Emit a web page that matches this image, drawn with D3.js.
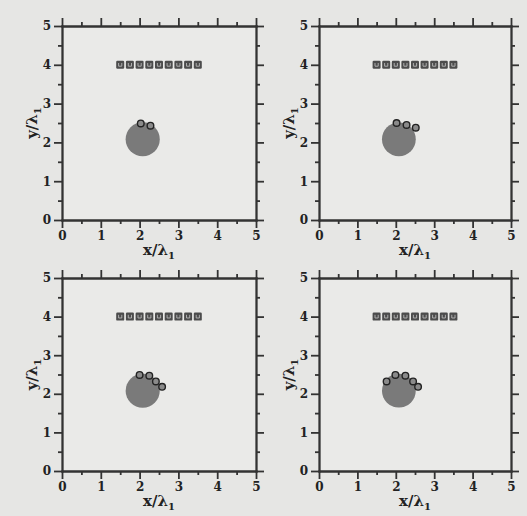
<!DOCTYPE html>
<html>
<head>
<meta charset="utf-8">
<script src="https://d3js.org/d3.v7.min.js"></script>
<style>
  body { margin: 0; background: #e6e6e4; }
  .axis path, .axis line { stroke: #333; stroke-width: 1.8; }
  .axis text { font-family: "DejaVu Serif", serif; font-weight: bold; font-size: 12px; fill: #222; }
  .lab { font-family: "DejaVu Serif", serif; font-weight: bold; font-size: 15px; fill: #222; }
</style>
</head>
<body>
<div id="chart"></div>
<script>
// major / minor ticks (same on both axes)
var majorTicks = [0, 1, 2, 3, 4, 5];
var minorTicks = [0.5, 1.5, 2.5, 3.5, 4.5];

// row of square markers at y = 4
var squareX = [1.5, 1.75, 2.0, 2.25, 2.5, 2.75, 3.0, 3.25, 3.5];
var squareY = [4, 4, 4, 4, 4, 4, 4, 4, 4];

// big grey disc
var discX = 2.08;
var discY = 2.08;
var discR = 0.44;

// small circles on top of the disc, one list per panel
var bubbleX = [
  [2.03, 2.28],
  [2.02, 2.28, 2.52],
  [2.00, 2.25, 2.42, 2.58],
  [1.76, 1.99, 2.25, 2.45, 2.58]
];
var bubbleY = [
  [2.49, 2.43],
  [2.50, 2.45, 2.38],
  [2.49, 2.47, 2.32, 2.18],
  [2.32, 2.49, 2.47, 2.32, 2.18]
];

var svgWidth = 527;
var svgHeight = 516;

// plot boxes of the four panels
var boxes = [
  {x0: 62, x1: 256, y0: 26, y1: 220},
  {x0: 319, x1: 511, y0: 26, y1: 220},
  {x0: 62, x1: 256, y0: 278, y1: 471},
  {x0: 319, x1: 511, y0: 278, y1: 471}
];

var svg = d3.select("#chart")
  .append("svg")
  .attr("width", svgWidth)
  .attr("height", svgHeight);

svg.append("rect")
  .attr("width", svgWidth)
  .attr("height", svgHeight)
  .attr("fill", "#e6e6e4");

boxes.forEach(function(b, i) {
  var w = b.x1 - b.x0;
  var h = b.y1 - b.y0;

  var x = d3.scaleLinear().domain([0, 5]).range([0, w]);
  var y = d3.scaleLinear().domain([0, 5]).range([h, 0]);

  var g = svg.append("g")
    .attr("transform", `translate(${b.x0}, ${b.y0})`);

  g.append("rect")
    .attr("width", w)
    .attr("height", h)
    .attr("fill", "#eaeae8");

  // major ticks with labels on bottom/left, plain on top/right
  g.append("g").attr("class", "axis")
    .attr("transform", `translate(0, ${h})`)
    .call(d3.axisBottom(x).tickValues(majorTicks).tickSize(8).tickSizeOuter(0).tickPadding(3).tickFormat(d3.format("d")));
  g.append("g").attr("class", "axis")
    .call(d3.axisLeft(y).tickValues(majorTicks).tickSize(8).tickSizeOuter(0).tickPadding(3).tickFormat(d3.format("d")));
  g.append("g").attr("class", "axis")
    .call(d3.axisTop(x).tickValues(majorTicks).tickSize(8).tickSizeOuter(0).tickFormat(""));
  g.append("g").attr("class", "axis")
    .attr("transform", `translate(${w}, 0)`)
    .call(d3.axisRight(y).tickValues(majorTicks).tickSize(8).tickSizeOuter(0).tickFormat(""));

  // minor ticks
  g.append("g").attr("class", "axis")
    .attr("transform", `translate(0, ${h})`)
    .call(d3.axisBottom(x).tickValues(minorTicks).tickSize(4).tickSizeOuter(0).tickFormat(""));
  g.append("g").attr("class", "axis")
    .call(d3.axisLeft(y).tickValues(minorTicks).tickSize(4).tickSizeOuter(0).tickFormat(""));
  g.append("g").attr("class", "axis")
    .call(d3.axisTop(x).tickValues(minorTicks).tickSize(4).tickSizeOuter(0).tickFormat(""));
  g.append("g").attr("class", "axis")
    .attr("transform", `translate(${w}, 0)`)
    .call(d3.axisRight(y).tickValues(minorTicks).tickSize(4).tickSizeOuter(0).tickFormat(""));

  g.selectAll(".axis .domain").attr("stroke-linecap", "square");

  // axis labels
  var xl = g.append("text")
    .attr("class", "lab")
    .attr("x", w / 2)
    .attr("y", h + 35)
    .attr("text-anchor", "middle");
  xl.append("tspan").text("x/λ");
  xl.append("tspan").attr("dy", 4).attr("font-size", "10px").text("1");

  var yl = g.append("text")
    .attr("class", "lab")
    .attr("transform", `translate(-25, ${h / 2}) rotate(-90)`)
    .attr("text-anchor", "middle");
  yl.append("tspan").text("y/λ");
  yl.append("tspan").attr("dy", 4).attr("font-size", "10px").text("1");

  // big disc
  g.append("circle")
    .attr("cx", x(discX))
    .attr("cy", y(discY))
    .attr("r", x(discR) - x(0))
    .attr("fill", "#7a7a7a");

  // square markers
  var sq = g.selectAll(".sq")
    .data(squareX.map(function(d, k) { return [d, squareY[k]]; }))
    .enter().append("g")
    .attr("class", "sq")
    .attr("transform", d => `translate(${x(d[0])}, ${y(d[1])})`);
  sq.append("rect")
    .attr("x", -4).attr("y", -4)
    .attr("width", 8).attr("height", 8)
    .attr("rx", 1.2)
    .attr("fill", "#4c4c4c");
  sq.append("path")
    .attr("d", "M-1.6,-1.8 L-1.6,1.4 L1.6,1.4 L1.6,-1.8")
    .attr("fill", "none")
    .attr("stroke", "#b8b8b8")
    .attr("stroke-width", 0.9);

  // small circles
  g.selectAll(".bub")
    .data(bubbleX[i].map(function(d, k) { return [d, bubbleY[i][k]]; }))
    .enter().append("circle")
    .attr("class", "bub")
    .attr("cx", d => x(d[0]))
    .attr("cy", d => y(d[1]))
    .attr("r", 3.3)
    .attr("fill", "#8a8a8a")
    .attr("stroke", "#222")
    .attr("stroke-width", 1.4);
});
</script>
</body>
</html>
